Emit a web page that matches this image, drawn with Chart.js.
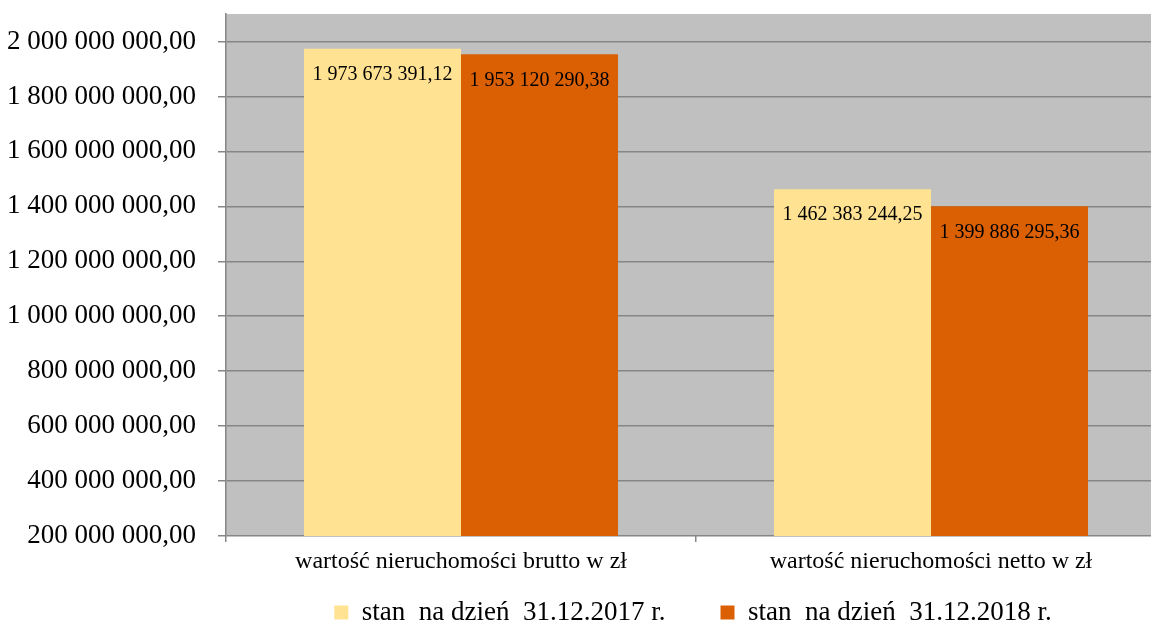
<!DOCTYPE html>
<html>
<head>
<meta charset="utf-8">
<script src="https://cdn.jsdelivr.net/npm/chart.js@4"></script>
<style>
  html, body { margin: 0; padding: 0; background: #fff; overflow: hidden; }
  #wrap { width: 1386px; height: 625px; }
</style>
</head>
<body>
<div id="wrap"><canvas id="chart"></canvas></div>
<script>
// Dane
const categories = ['wartość nieruchomości brutto w zł', 'wartość nieruchomości netto w zł'];
const seriesNames = ['stan  na dzień  31.12.2017 r.', 'stan  na dzień  31.12.2018 r.'];
const values2017 = [1973673391.12, 1462383244.25];
const values2018 = [1953120290.38, 1399886295.36];
const yTicks = [200000000, 400000000, 600000000, 800000000, 1000000000,
                1200000000, 1400000000, 1600000000, 1800000000, 2000000000];
const yMin = 200000000, yMax = 2100000000;

const colors = ['#FFE393', '#DA6003'];
const serif = '"Liberation Serif", "Times New Roman", serif';

// 1 973 673 391,12
function fmtPl(v) {
    const [i, d] = v.toFixed(2).split('.');
    return i.replace(/\B(?=(\d{3})+(?!\d))/g, ' ') + ',' + d;
}

// tło obszaru wykresu
const plotBg = {
    id: 'plotBg',
    beforeDraw(chart) {
        const { ctx, chartArea: a } = chart;
        ctx.save();
        ctx.fillStyle = '#C0C0C0';
        ctx.fillRect(a.left, a.top, a.right - a.left, a.bottom - a.top);
        ctx.restore();
    }
};

// etykiety wartości wewnątrz słupków
const barLabels = {
    id: 'barLabels',
    afterDatasetsDraw(chart) {
        const ctx = chart.ctx;
        ctx.save();
        ctx.font = '20px ' + serif;
        ctx.fillStyle = '#000';
        ctx.textAlign = 'center';
        ctx.textBaseline = 'middle';
        chart.data.datasets.forEach((ds, i) => {
            chart.getDatasetMeta(i).data.forEach((bar, j) => {
                ctx.fillText(fmtPl(ds.data[j]), bar.x, bar.y + 26);
            });
        });
        ctx.restore();
    }
};

new Chart(document.getElementById('chart'), {
    type: 'bar',
    data: {
        labels: categories,
        datasets: [
            { label: seriesNames[0], data: values2017, backgroundColor: colors[0] },
            { label: seriesNames[1], data: values2018, backgroundColor: colors[1] }
        ]
    },
    options: {
        responsive: true,
        maintainAspectRatio: false,
        animation: false,
        devicePixelRatio: 1,
        layout: { padding: { top: 14, right: 0, left: 0, bottom: -11 } },
        datasets: { bar: { categoryPercentage: 0.668, barPercentage: 1 } },
        plugins: {
            legend: {
                position: 'bottom',
                labels: {
                    font: { family: serif, size: 27 },
                    color: '#000',
                    boxWidth: 14,
                    boxHeight: 14,
                    padding: 55
                }
            },
            tooltip: { enabled: false }
        },
        scales: {
            x: {
                grid: { drawOnChartArea: false, offset: true, color: '#868686', tickLength: 6, lineWidth: 1.5 },
                border: { display: false },
                // mirror + ujemny padding: etykiety pod osią bez przycinania do wąskiej osi
                ticks: { font: { family: serif, size: 24 }, color: '#000', mirror: true, padding: -40 },
                afterFit(s) { s.height = 8; }
            },
            y: {
                min: yMin,
                max: yMax,
                grid: { color: '#868686', lineWidth: 1.5, tickLength: 8 },
                border: { color: '#868686', width: 1.5 },
                ticks: {
                    font: { family: serif, size: 27 },
                    color: '#000',
                    padding: 22,
                    callback: (v) => fmtPl(v)
                },
                afterBuildTicks(s) { s.ticks = yTicks.map(v => ({ value: v })); },
                afterFit(s) { s.width = 226; s.paddingTop = 0; s.paddingBottom = 0; }
            },
            // pusta oś: oryginał jest przycięty z prawej strony
            yRight: {
                position: 'right',
                display: true,
                grid: { display: false },
                border: { display: false },
                ticks: { display: false },
                afterFit(s) { s.width = 220; }
            }
        }
    },
    plugins: [plotBg, barLabels]
});
</script>
</body>
</html>
